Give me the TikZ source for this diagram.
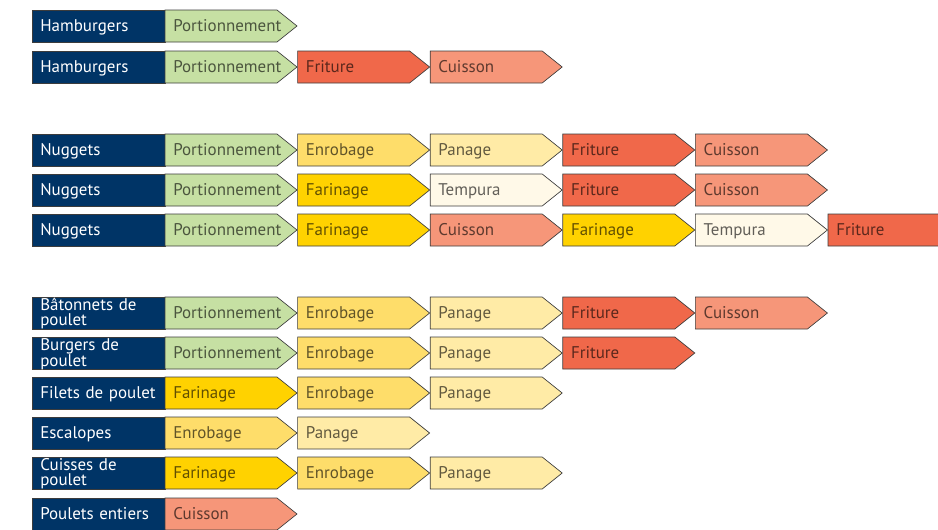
\documentclass[tikz,border=0pt]{standalone}
\usepackage{fontspec}
\setmainfont{PT Sans}
\definecolor{navy}{RGB}{0,52,102}
\definecolor{edge}{RGB}{60,60,60}
\definecolor{portion}{RGB}{198,224,163}
\definecolor{frit}{RGB}{240,104,74}
\definecolor{cuis}{RGB}{246,150,121}
\definecolor{enro}{RGB}{254,221,106}
\definecolor{fari}{RGB}{255,210,0}
\definecolor{pana}{RGB}{255,235,166}
\definecolor{temp}{RGB}{255,249,232}
\tikzset{
	labelbox/.style={fill=navy, draw=edge, line width=0.5pt},
	labeltext/.style={anchor=base west, inner sep=0pt, text width=95pt, align=left,
		text=white, font=\fontsize{12.7}{11.4}\selectfont},
	stepshape/.style={fill=#1, draw=edge, line width=0.5pt},
	steptext/.style={anchor=base west, inner sep=0pt, text=black, text opacity=0.62,
		font=\fontsize{12.7}{11.4}\selectfont},
}
\begin{document}
\begin{tikzpicture}[x=0.75pt, y=-0.75pt]
	\useasboundingbox (0,0) rectangle (938,529);

	% rows: centre / baseline shift / label / steps
	\foreach \y/\dy/\lab/\steps [count=\i] in {
	26/5.6/Hamburgers/{portion/Portionnement},
	67/5.6/Hamburgers/{portion/Portionnement, frit/Friture, cuis/Cuisson},
	150/5.6/Nuggets/{portion/Portionnement, enro/Enrobage, pana/Panage, frit/Friture, cuis/Cuisson},
	190/5.6/Nuggets/{portion/Portionnement, fari/Farinage, temp/Tempura, frit/Friture, cuis/Cuisson},
	230/5.6/Nuggets/{portion/Portionnement, fari/Farinage, cuis/Cuisson, fari/Farinage, temp/Tempura, frit/Friture},
	313/-2.8/{Bâtonnets de\\poulet}/{portion/Portionnement, enro/Enrobage, pana/Panage, frit/Friture, cuis/Cuisson},
	353/-2.8/{Burgers de\\poulet}/{portion/Portionnement, enro/Enrobage, pana/Panage, frit/Friture},
	393/5.6/Filets de poulet/{fari/Farinage, enro/Enrobage, pana/Panage},
	433/5.6/Escalopes/{enro/Enrobage, pana/Panage},
	473/-2.8/{Cuisses de\\poulet}/{fari/Farinage, enro/Enrobage, pana/Panage},
	514/5.6/Poulets entiers/{cuis/Cuisson}}
	{
		\path[labelbox] (32,\y-16) rectangle (165,\y+16);
		\node[labeltext] (r\i) at (40,\y+\dy) {\lab};
		\foreach \c/\t [count=\j] in \steps
		{
			\pgfmathsetmacro\x{165+132.6*(\j-1)}
			\path[stepshape=\c] (\x,\y-16) -- ++(112,0) -- ++(20,16) -- ++(-20,16) -- ++(-112,0) -- cycle;
			\node[steptext] (s\i-\j) at (\x+8,\y+5.6) {\t};
		};
	};
\end{tikzpicture}
\end{document}
